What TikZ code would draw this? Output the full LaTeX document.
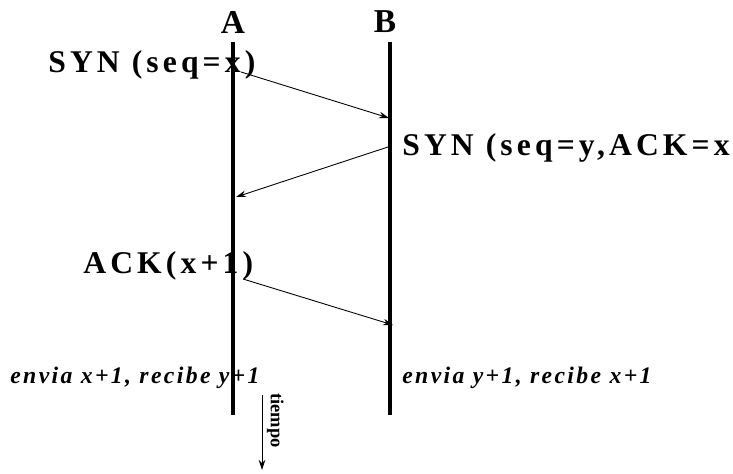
\documentclass[tikz,border=0pt]{standalone}
\usepackage{fontspec}
\setmainfont{Liberation Serif}
\newfontfamily\spacedfont[LetterSpace=13]{Liberation Serif}
\newfontfamily\notefont[LetterSpace=10]{Liberation Serif}
\usetikzlibrary{arrows.meta,positioning}

\begin{document}
\begin{tikzpicture}[
    x=0.02cm, y=-0.02cm,
    life/.style={line width=2.3pt},
    msg/.style={-{Stealth[length=2mm,width=1.3mm]}, line width=0.5pt},
    host/.style={font=\bfseries\fontsize{19}{20}\selectfont, inner sep=0pt},
    seg/.style={font=\spacedfont\bfseries\fontsize{18}{20}\selectfont, inner sep=0pt, anchor=base west},
    note/.style={font=\notefont\bfseries\itshape\fontsize{13.5}{15}\selectfont, inner sep=0pt, anchor=base west}
  ]
    \useasboundingbox (0,0) rectangle (733,473);
    % hosts and lifelines
    \node[host] (A) at (233,22) {A};
    \node[host] (B) at (385,22) {B};
    \coordinate (a0) at (233,42);
    \coordinate (a1) at (233,415);
    \coordinate (b0) at (390,42);
    \coordinate (b1) at (390,415);
    \draw[life] (a0) -- (a1);
    \draw[life] (b0) -- (b1);
    % segments
    \node[seg] (syn) at (48,72) {SYN (seq=x)};
    \node[seg] (synack) at (402,155) {SYN (seq=y,ACK=x};
    \node[seg] (ack) at (83,273) {ACK(x+1)};
    \coordinate (s1) at (241,72);
    \coordinate (r1) at (389,118);
    \coordinate (s2) at (388,147);
    \coordinate (r2) at (236,197);
    \coordinate (s3) at (243,279);
    \coordinate (r3) at (393,325);
    \draw[msg] (s1) -- (r1);
    \draw[msg] (s2) -- (r2);
    \draw[msg] (s3) -- (r3);
    % state
    \node[note] (stA) at (10,383) {envia x+1, recibe y+1};
    \node[note] (stB) at (402,383) {envia y+1, recibe x+1};
    % time
    \coordinate (t0) at (262,395);
    \coordinate (t1) at (262,470);
    \draw[-{Stealth[length=2mm,width=1.3mm]}, line width=0.5pt] (t0) -- (t1);
    \node[font=\bfseries\fontsize{10.5}{12}\selectfont, rotate=-90, inner sep=0pt, anchor=north west] (tiempo) at (284,393) {tiempo};
  \end{tikzpicture}
\end{document}
